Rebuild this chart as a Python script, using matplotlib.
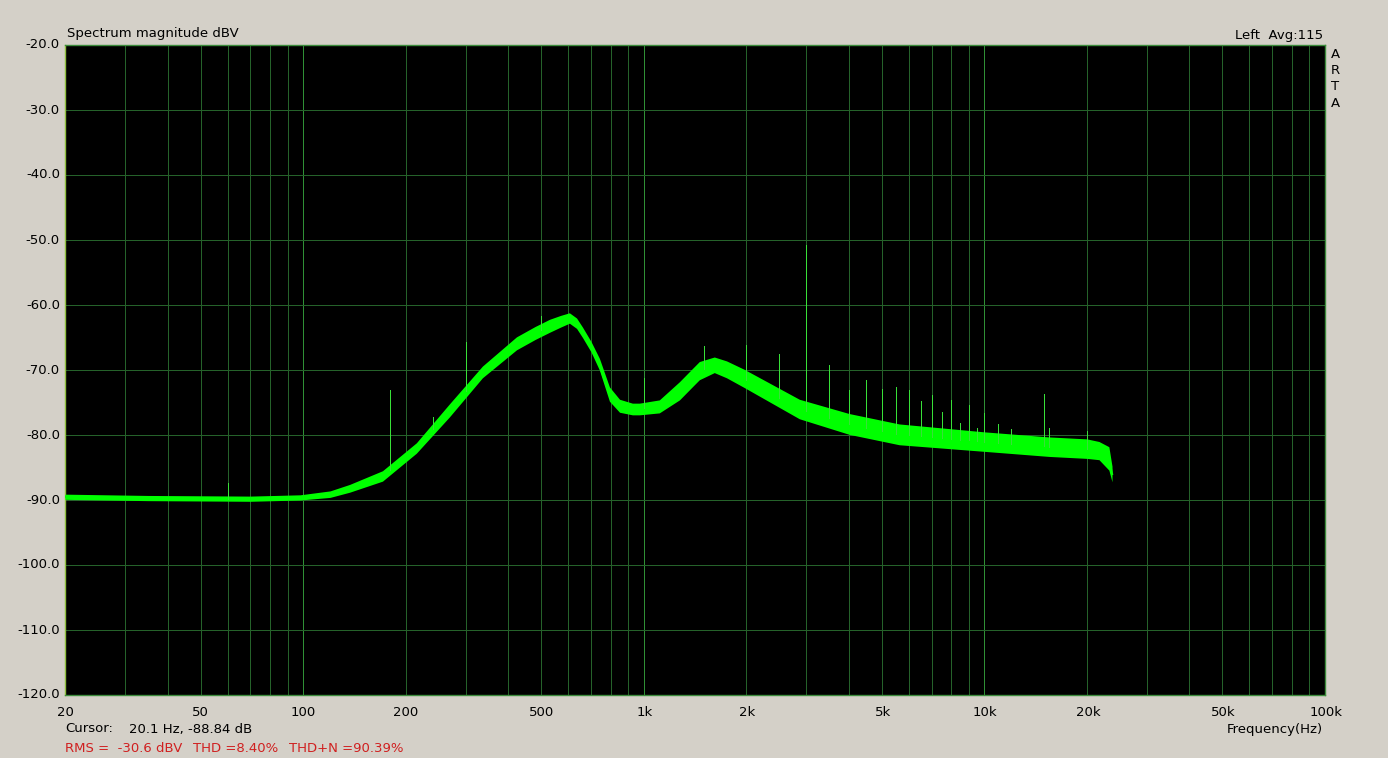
import numpy as np
from matplotlib import pyplot as plt
from matplotlib.ticker import FixedLocator, NullFormatter

# trace: frequency (Hz), centre level (dBV), half width of noise band (dB)
freqs = [20, 35, 70, 98, 120, 137, 171, 215, 269, 336, 423, 480, 529, 570, 605, 635, 661,
         700, 741, 793, 849, 926, 971, 1111, 1273, 1400, 1456, 1611, 1750, 1973, 2862,
         4009, 5622, 9909, 15500, 20000, 21700, 23200, 23700]
levels = [-89.5, -89.7, -89.8, -89.6, -89.1, -88.2, -86.3, -82.0, -76.2, -70.3, -65.9,
          -64.3, -63.2, -62.5, -62.0, -62.8, -64.2, -66.4, -69.1, -73.7, -75.5, -76.0,
          -76.0, -75.6, -73.2, -71.0, -70.1, -69.2, -69.9, -71.3, -76.0, -78.3, -79.9,
          -81.0, -81.8, -82.1, -82.4, -83.6, -86.0]
spread = [0.4, 0.4, 0.4, 0.4, 0.5, 0.6, 0.8, 0.8, 1.0, 0.9, 1.0, 1.0, 1.0, 0.9, 0.8, 0.8,
          0.8, 0.8, 0.9, 1.1, 1.0, 0.9, 0.9, 1.0, 1.4, 1.4, 1.4, 1.2, 1.3, 1.4, 1.5, 1.6,
          1.6, 1.5, 1.5, 1.5, 1.4, 1.8, 1.2]

# harmonic / hum spikes: frequency (Hz), peak level (dBV)
spike_freqs = [60, 180, 240, 300, 500, 1000, 1500, 2000, 2500, 3000, 3500, 4000, 4500,
               5000, 5500, 6000, 6500, 7000, 7500, 8000, 8500, 9000, 9500, 10000, 11000,
               12000, 15000, 15500, 20000]
spike_peaks = [-87.4, -73.1, -77.2, -65.7, -61.7, -71.3, -66.3, -66.2, -67.5, -50.8, -69.2,
               -73.1, -71.5, -72.9, -72.6, -73.1, -74.8, -73.8, -76.4, -74.6, -78.2, -75.4,
               -78.9, -76.6, -78.3, -79.1, -73.7, -78.9, -79.4]

x_ticks = [20, 50, 100, 200, 500, 1000, 2000, 5000, 10000, 20000, 50000, 100000]
x_labels = ['20', '50', '100', '200', '500', '1k', '2k', '5k', '10k', '20k', '50k', '100k']
y_ticks = [-20, -30, -40, -50, -60, -70, -80, -90, -100, -110, -120]

W, H = 1388, 758
bg = '#d4d0c8'
grid_col = '#25622a'
decade_col = '#2f8f35'
trace_col = '#00ff00'
spike_col = '#38e038'

plt.rcParams['font.family'] = ['DejaVu Sans']
plt.rcParams['font.size'] = 9.5

fig = plt.figure(figsize=(W / 100, H / 100), dpi=100, facecolor=bg)
ax = fig.add_axes([65 / W, 1 - 695 / H, (1325 - 65) / W, (695 - 45) / H])
ax.set_facecolor('black')
ax.set_xscale('log')
ax.set_xlim(20, 100000)
ax.set_ylim(-120, -20)

# grid: every 10 dB and every log decade step, 1 px wide; decades a bit brighter
grid_f = []
for dec in [10, 100, 1000, 10000]:
    for m in range(1, 10):
        if 20 < m * dec < 100000:
            grid_f.append(m * dec)
for gf in grid_f:
    c = decade_col if gf in (100, 1000, 10000) else grid_col
    ax.axvline(gf, color=c, lw=0.72, zorder=1, snap=True, antialiased=False)
for y in y_ticks:
    ax.axhline(y, color=grid_col, lw=0.72, zorder=1, snap=True, antialiased=False)

f = np.array(freqs, dtype=float)
lv = np.array(levels)
sp = np.array(spread)
ax.fill_between(f, lv - sp, lv + sp, color=trace_col, lw=0, zorder=3)
ax.plot(f, lv, color=trace_col, lw=1.6, zorder=3)

sf = np.array(spike_freqs, dtype=float)
base = np.interp(np.log10(sf), np.log10(f), lv)
ax.vlines(sf, base, spike_peaks, color=spike_col, lw=0.72, zorder=3, antialiased=False)

ax.xaxis.set_major_locator(FixedLocator(x_ticks))
ax.xaxis.set_minor_locator(FixedLocator(grid_f))
ax.xaxis.set_minor_formatter(NullFormatter())
ax.set_xticklabels([])
ax.set_yticks(y_ticks)
ax.set_yticklabels([])
ax.tick_params(which='both', length=0)
for s in ax.spines.values():
    s.set_color('#3c8c3c')
    s.set_linewidth(1.0)
ax.spines['left'].set_color('#90c040')


def px(x, y, s, **kw):
    fig.text(x / W, 1 - y / H, s, va='center', **kw)


# tick labels placed in pixel coordinates like the original window
for v in y_ticks:
    yp = 45 + (-20 - v) * 6.5
    px(60, yp, f'{v:.1f}', ha='right')
for v, lab in zip(x_ticks, x_labels):
    xp = 65 + 341 * np.log10(v / 20)
    px(xp, 712, lab, ha='center')

px(67, 34, 'Spectrum magnitude dBV', ha='left')
px(1323, 35, 'Left  Avg:115', ha='right')
for i, ch in enumerate('ARTA'):
    px(1335, 54 + i * 16.5, ch, ha='center')

px(65, 729, 'Cursor:', ha='left')
px(129, 729, '20.1 Hz, -88.84 dB', ha='left')
px(1323, 729, 'Frequency(Hz)', ha='right')

red = '#d02020'
px(65, 748, 'RMS =  -30.6 dBV', ha='left', color=red)
px(193, 748, 'THD =8.40%', ha='left', color=red)
px(289, 748, 'THD+N =90.39%', ha='left', color=red)

plt.savefig('out.png', dpi=100, facecolor=bg)
plt.close()
